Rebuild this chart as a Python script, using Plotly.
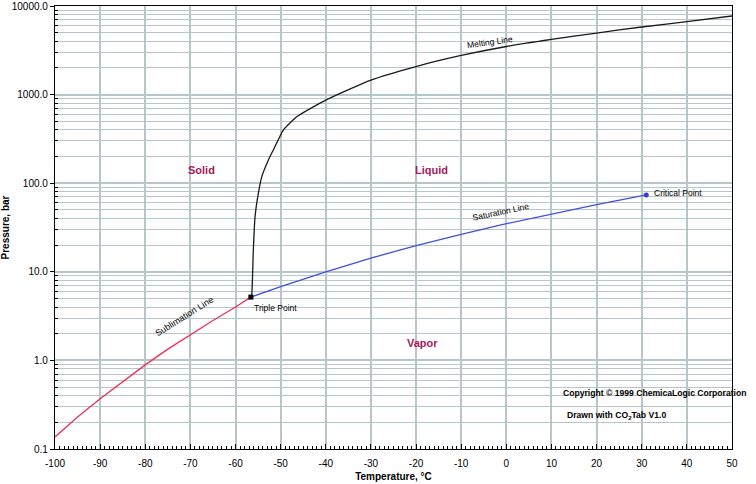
import plotly.graph_objects as go

# CO2 phase diagram data
subl_t = [-100, -95, -90, -85, -80, -75, -70, -65, -60, -56.6]
subl_p = [0.137, 0.23, 0.37, 0.58, 0.89, 1.34, 1.95, 2.82, 4.0, 5.18]

sat_t = [-56.6, -50, -40, -30, -20, -10, 0, 10, 20, 31.0]
sat_p = [5.18, 6.8, 10.0, 14.3, 19.7, 26.5, 34.9, 45.0, 57.3, 73.8]

melt_t = [-56.6, -56.4, -56.06, -55.68, -54.95, -54.2, -52.74, -51.63, -49.41,
          -46.44, -40, -30, -20, -10, 0, 10, 20, 30, 40, 50]
melt_p = [5.18, 5.6, 17.5, 41.7, 76.7, 118, 182, 237, 398,
          562, 867, 1459, 2075, 2763, 3490, 4190, 4955, 5795, 6650, 7710]

triple = (-56.6, 5.18)
critical = (31.0, 73.8)

x_ticks = list(range(-100, 51, 10))
y_ticks = [0.1, 1, 10, 100, 1000, 10000]
y_labels = ["0.1", "1.0", "10.0", "100.0", "1000.0", "10000.0"]
y_minor = [m * d for d in [0.1, 1, 10, 100, 1000] for m in range(2, 10)]

region_color = "#a3195b"
grid_color = "#b7c6ca"
font = "Liberation Sans, Arial, sans-serif"

fig = go.Figure()
fig.add_trace(go.Scatter(x=subl_t, y=subl_p, mode="lines",
                         line=dict(color="#e8305a", width=1.3), hoverinfo="skip"))
fig.add_trace(go.Scatter(x=sat_t, y=sat_p, mode="lines",
                         line=dict(color="#4050e0", width=1.3), hoverinfo="skip"))
fig.add_trace(go.Scatter(x=melt_t, y=melt_p, mode="lines",
                         line=dict(color="#1a1a1a", width=1.3, shape="spline", smoothing=0.5),
                         hoverinfo="skip"))
fig.add_trace(go.Scatter(x=[triple[0]], y=[triple[1]], mode="markers",
                         marker=dict(color="black", size=5, symbol="square")))
fig.add_trace(go.Scatter(x=[critical[0]], y=[critical[1]], mode="markers",
                         marker=dict(color="#3040d0", size=5)))

# annotation y values are log10(pressure) on a log axis
def note(x, logy, text, size=9, color="black", angle=0, bold=False, xanchor="center"):
    if bold:
        text = "<b>" + text + "</b>"
    fig.add_annotation(x=x, y=logy, text=text, showarrow=False, textangle=angle,
                       xanchor=xanchor, font=dict(size=size, color=color, family=font))

note(-67.5, 2.148, "Solid", 11, region_color, bold=True)
note(-16.5, 2.148, "Liquid", 11, region_color, bold=True)
note(-18.5, 0.194, "Vapor", 11, region_color, bold=True)
note(-3.6, 3.59, "Melting Line", 8.5, angle=-8)
note(-1.4, 1.68, "Saturation Line", 8.5, angle=-12)
note(-71.2, 0.5, "Sublimation Line", 9, angle=-32)
note(-56.4, 0.59, "Triple Point", 8.5, xanchor="left")
note(32.3, 1.888, "Critical Point", 8.5, xanchor="left")
note(12.1, -0.371, "Copyright © 1999 ChemicaLogic Corporation", 8.6, bold=True, xanchor="left")
note(13.0, -0.619, "Drawn with CO<sub>2</sub>Tab V1.0", 8.6, bold=True, xanchor="left")

fig.update_layout(
    width=756, height=484,
    margin=dict(l=55, r=24, t=6, b=35),
    plot_bgcolor="white", paper_bgcolor="white",
    showlegend=False,
    font=dict(family=font, size=10, color="black"),
)
fig.update_xaxes(
    range=[-100, 50], tickvals=x_ticks, ticktext=[str(v) for v in x_ticks],
    showgrid=True, gridcolor=grid_color, gridwidth=1.5,
    showline=True, linecolor="black", linewidth=1.2, mirror=True,
    ticks="inside", ticklen=5, tickcolor="black", ticklabelstandoff=5,
    minor=dict(dtick=1, ticks="inside", ticklen=3, tickcolor="black", showgrid=False),
    zeroline=False, automargin=False,
    title=dict(text="<b>Temperature, °C</b>", font=dict(size=10), standoff=4),
    tickfont=dict(size=10),
)
fig.update_yaxes(
    type="log", range=[-1, 4], tickvals=y_ticks, ticktext=y_labels,
    showgrid=True, gridcolor=grid_color, gridwidth=1.5,
    showline=True, linecolor="black", linewidth=1.2, mirror=True,
    ticks="outside", ticklen=4, tickcolor="black",
    minor=dict(tickvals=y_minor, ticks="inside", ticklen=3, tickcolor="black",
               showgrid=True, gridcolor=grid_color, gridwidth=1),
    zeroline=False, automargin=False,
    title=dict(text="<b>Pressure, bar</b>", font=dict(size=10), standoff=2),
    tickfont=dict(size=10),
)

fig.write_html("out.html", config={"displayModeBar": False},
               post_script="document.body.style.margin='0';")
